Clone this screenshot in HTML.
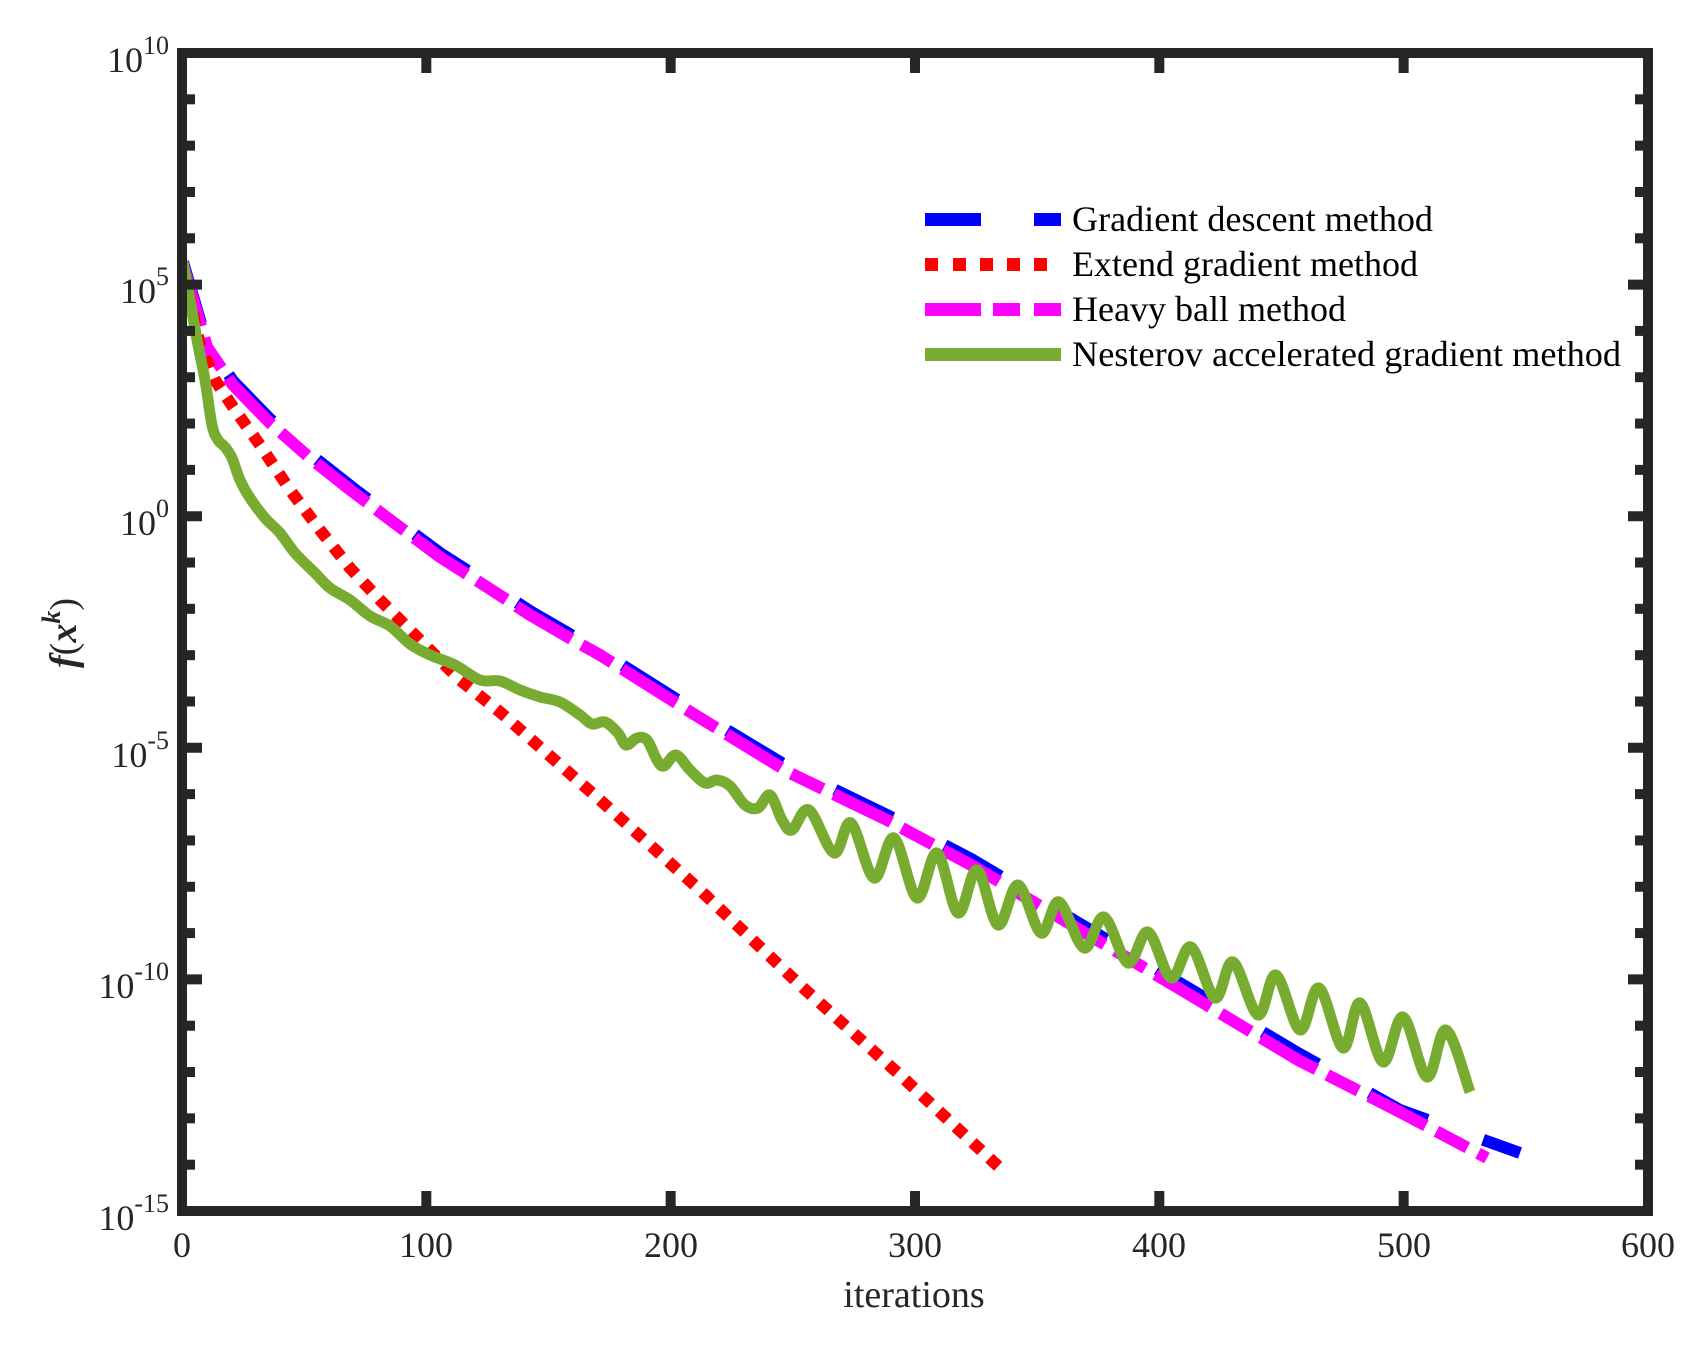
<!DOCTYPE html>
<html><head><meta charset="utf-8"><style>html,body{margin:0;padding:0;background:#fff}svg{display:block}</style></head>
<body>
<svg id="s" xmlns="http://www.w3.org/2000/svg" width="1696" height="1348" viewBox="0 0 1696 1348">
<rect width="1696" height="1348" fill="#fff"/>
<g fill="none" stroke-linecap="butt" stroke-linejoin="round">
<polyline id="blue" stroke="#0000ff" stroke-width="12" stroke-dasharray="64 59" points="183,262 207,344 233,381 270,419 310,454 353,488 397,521 440,553 487,583 530,611 573,636 600,651 692,709 790,768 887,815 973,860 1082,925 1190,989 1298,1053 1400,1110 1520,1153"/>
<polyline stroke="#ff00ff" stroke-width="12" stroke-dasharray="64 12 35 12" points="183,265 207,347 233,385 270,423 310,458 353,492 397,525 440,557 487,587 530,615 573,640 600,655 692,713 790,773 887,820 973,866 1082,931 1190,995 1298,1060 1400,1112 1487,1158"/>
<polyline stroke="#ff0000" stroke-width="12" stroke-dasharray="12 11" points="183,268 190,300 200,345 215,380 235,410 260,445 290,490 320,530 350,568 380,600 420,640 460,680 500,712 600,800 700,890 800,985 900,1075 1000,1168"/>
<path id="green" stroke="#77ac30" stroke-width="11" d=""/>
</g>
<g stroke="#262626" stroke-width="10" fill="none">
<rect x="182" y="53" width="1466" height="1158"/>
</g>
<g id="ticks" stroke="#262626" stroke-width="10"></g>
<g font-family="Liberation Serif, serif" fill="#262626" font-size="36">
<text x="182" y="1257" text-anchor="middle">0</text>
<text x="426" y="1257" text-anchor="middle">100</text>
<text x="671" y="1257" text-anchor="middle">200</text>
<text x="915" y="1257" text-anchor="middle">300</text>
<text x="1159" y="1257" text-anchor="middle">400</text>
<text x="1404" y="1257" text-anchor="middle">500</text>
<text x="1648" y="1257" text-anchor="middle">600</text>
<text x="914" y="1307" text-anchor="middle" font-size="38">iterations</text>
<text x="169" y="72" text-anchor="end">10<tspan font-size="26" dy="-18">10</tspan></text>
<text x="169" y="303" text-anchor="end">10<tspan font-size="26" dy="-18">5</tspan></text>
<text x="169" y="535" text-anchor="end">10<tspan font-size="26" dy="-18">0</tspan></text>
<text x="169" y="767" text-anchor="end">10<tspan font-size="26" dy="-18">-5</tspan></text>
<text x="169" y="998" text-anchor="end">10<tspan font-size="26" dy="-18">-10</tspan></text>
<text x="169" y="1230" text-anchor="end">10<tspan font-size="26" dy="-18">-15</tspan></text>
<text transform="translate(76,633) rotate(-90)" text-anchor="middle" font-size="38" font-style="italic" font-weight="bold">f<tspan font-style="normal" font-weight="normal">(</tspan>x<tspan font-size="26" dy="-16">k</tspan><tspan dy="16" font-style="normal" font-weight="normal">)</tspan></text>
</g>
<g>
<rect x="925" y="213" width="56" height="13" fill="#0000ff"/>
<rect x="1034" y="213" width="27" height="13" fill="#0000ff"/>
<rect x="925" y="258" width="13" height="13" fill="#ff0000"/>
<rect x="953" y="258" width="13" height="13" fill="#ff0000"/>
<rect x="980" y="258" width="13" height="13" fill="#ff0000"/>
<rect x="1007" y="258" width="13" height="13" fill="#ff0000"/>
<rect x="1034" y="258" width="13" height="13" fill="#ff0000"/>
<rect x="925" y="303" width="56" height="13" fill="#ff00ff"/>
<rect x="993" y="303" width="27" height="13" fill="#ff00ff"/>
<rect x="1034" y="303" width="27" height="13" fill="#ff00ff"/>
<rect x="925" y="348" width="136" height="13" fill="#77ac30"/>
</g>
<g font-family="Liberation Serif, serif" fill="#000" font-size="36">
<text x="1072" y="231" textLength="361" lengthAdjust="spacingAndGlyphs">Gradient descent method</text>
<text x="1072" y="276" textLength="346" lengthAdjust="spacingAndGlyphs">Extend gradient method</text>
<text x="1072" y="321" textLength="274" lengthAdjust="spacingAndGlyphs">Heavy ball method</text>
<text x="1072" y="366" textLength="549" lengthAdjust="spacingAndGlyphs">Nesterov accelerated gradient method</text>
</g>
</svg>
<script>
var P=[[183,262],[190,300],[197,340],[205,380],[212,425],[218,440],[225,447],[232,458],[240,480],[250,498],[265,518],[280,533],[295,553],[315,573],[330,588],[350,600],[370,616],[390,626],[410,644],[430,655],[455,665],[480,680],[500,681],[520,690],[540,697],[560,702],[580,715],[592,724],[605,722],[618,733],[626,745],[637,738],[647,740],[657,760],[664,766],[676,755],[690,770],[705,783],[717,780],[730,786],[745,805],[758,808],[770,795],[782,820],[792,830],[809,810],[834,853],[851,823],[874,878],[894,838],[917,898],[937,853],[958,913],[977,870],[998,925],[1018,885],[1041,933],[1059,902],[1084,948],[1104,917],[1128,963],[1148,932],[1171,978],[1191,947],[1215,998],[1233,962],[1258,1015],[1276,975],[1300,1030],[1319,988],[1343,1048],[1360,1003],[1383,1062],[1403,1017],[1427,1077],[1446,1030],[1470,1092]];
var d="M"+P[0][0]+","+P[0][1];
for(var i=0;i<P.length-1;i++){var p0=P[Math.max(0,i-1)],p1=P[i],p2=P[i+1],p3=P[Math.min(P.length-1,i+2)];
d+=" C"+(p1[0]+(p2[0]-p0[0])/6)+","+(p1[1]+(p2[1]-p0[1])/6)+" "+(p2[0]-(p3[0]-p1[0])/6)+","+(p2[1]-(p3[1]-p1[1])/6)+" "+p2[0]+","+p2[1];}
document.getElementById("green").setAttribute("d",d);
var t="",g=document.getElementById("ticks");
for(var k=1;k<25;k++){var y=53+k*46.32;var L=(k%5==0)?20:13;
t+='<line x1="182" y1="'+y+'" x2="'+(182+L)+'" y2="'+y+'"/><line x1="1648" y1="'+y+'" x2="'+(1648-L)+'" y2="'+y+'"/>';}
for(var k=1;k<6;k++){var x=182+k*244.33;
t+='<line x1="'+x+'" y1="1211" x2="'+x+'" y2="1191"/><line x1="'+x+'" y1="53" x2="'+x+'" y2="73"/>';}
g.innerHTML=t;
</script>
</body></html>
